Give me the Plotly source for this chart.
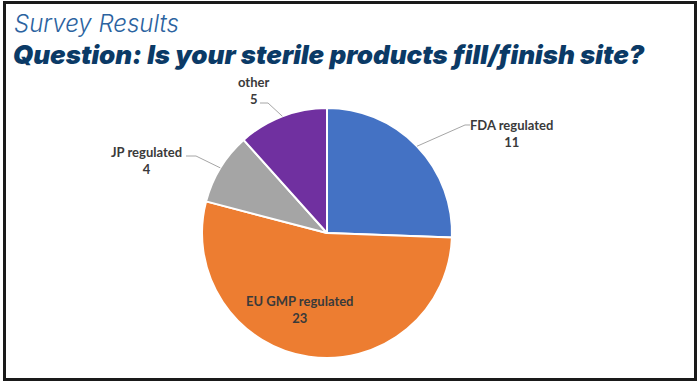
import math
import plotly.graph_objects as go

categories = ["FDA regulated", "EU GMP regulated", "JP regulated", "other"]
values = [11, 23, 4, 5]
colors = ["#4472C4", "#ED7D31", "#A5A5A5", "#7030A0"]

W, H = 700, 384
CX, CY, R = 327, 233, 125  # pie centre/radius in px


def px(x):
    return x / W


def py(y):
    return 1 - y / H


fig = go.Figure(go.Pie(
    labels=categories,
    values=values,
    sort=False,
    direction="clockwise",
    rotation=0,
    marker=dict(colors=colors, line=dict(color="white", width=2)),
    textinfo="none",
    hoverinfo="label+value",
    showlegend=False,
    domain=dict(x=[px(CX - R), px(CX + R)], y=[py(CY + R), py(CY - R)]),
))

# label positions (px, centre of text block) and leader elbows
label_pos = {
    "FDA regulated": (511, 133),
    "EU GMP regulated": (300, 309),
    "JP regulated": (146, 160),
    "other": (253, 91),
}
elbows = {
    "FDA regulated": [(465, 125), (470, 125)],
    "JP regulated": [(196, 156), (186, 156)],
    "other": [(268, 103), (260, 103)],
}

total = sum(values)
cum = 0
shapes = []
annotations = []
for cat, v in zip(categories, values):
    mid = (cum + v / 2) / total * 2 * math.pi
    cum += v
    sx = CX + R * math.sin(mid)
    sy = CY - R * math.cos(mid)
    if cat in elbows:
        pts = [(sx, sy)] + elbows[cat]
        path = "M " + " L ".join(f"{px(x):.5f},{py(y):.5f}" for x, y in pts)
        shapes.append(dict(type="path", xref="paper", yref="paper", path=path,
                           line=dict(color="#A6A6A6", width=1)))
    lx, ly = label_pos[cat]
    annotations.append(dict(
        x=px(lx), y=py(ly), xref="paper", yref="paper", showarrow=False,
        text=f"<b>{cat}</b><br><b>{v}</b>", align="center",
        xanchor="center", yanchor="middle",
        font=dict(family="Lato, Open Sans, sans-serif", size=13, color="#3A3A3A"),
    ))

annotations.append(dict(
    x=px(12), y=py(7), xref="paper", yref="paper", showarrow=False,
    xanchor="left", yanchor="top", text="Survey Results",
    font=dict(family="Inter, Lato, sans-serif", size=24, color="#2B63A0", weight=300, style="italic"),
))
annotations.append(dict(
    x=px(11), y=py(37), xref="paper", yref="paper", showarrow=False,
    xanchor="left", yanchor="top",
    text="Question: Is your sterile products fill/finish site?",
    font=dict(family="Inter, Lato, sans-serif", size=26, color="#0B3A66", weight=900, style="italic"),
))

shapes.append(dict(type="rect", xref="paper", yref="paper",
                   x0=px(4.5), x1=px(695.5), y0=py(379.5), y1=py(2.5),
                   line=dict(color="#1A1A1A", width=3)))

fig.update_layout(
    width=W, height=H,
    margin=dict(l=0, r=0, t=0, b=0),
    paper_bgcolor="white", plot_bgcolor="white",
    shapes=shapes, annotations=annotations,
)

fig.write_html("out.html", config={"displayModeBar": False},
               post_script="document.body.style.margin='0';document.body.style.overflow='hidden';")
